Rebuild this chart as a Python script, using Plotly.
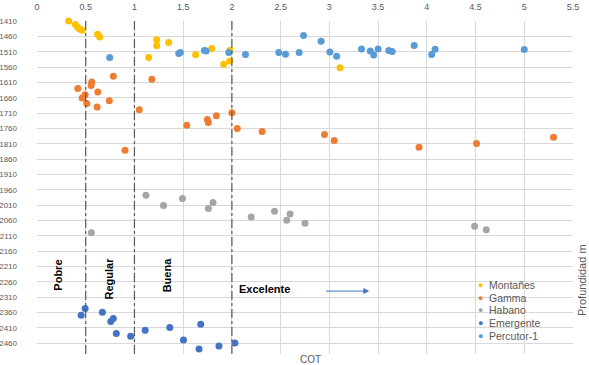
import plotly.graph_objects as go

# ---------------- data ----------------
montanes_x = [0.325, 0.393, 0.417, 0.437, 0.462, 0.622, 0.643, 1.228, 1.228, 1.351,
              1.793, 1.628, 1.146, 1.98, 1.978, 1.916, 3.11]
montanes_y = [1410, 1421, 1430, 1436, 1440, 1453, 1462, 1471, 1491, 1480,
              1500, 1520, 1529, 1506, 1540, 1551, 1562]

gamma_x = [0.783, 1.179, 0.562, 0.555, 0.419, 0.624, 0.494, 0.463, 0.511, 0.742,
           0.617, 1.049, 2.0, 1.84, 1.748, 1.758, 1.537, 2.055, 2.31, 0.903,
           2.95, 3.05, 3.92, 4.51, 5.30]
gamma_y = [1590, 1600, 1609, 1620, 1630, 1641, 1650, 1661, 1679, 1670,
           1690, 1699, 1709, 1719, 1731, 1741, 1750, 1760, 1770, 1831,
           1780, 1799, 1821, 1809, 1789]

habano_x = [1.118, 1.298, 1.493, 1.759, 1.806, 0.558, 2.198, 2.437, 2.563, 2.597,
            2.75, 4.49, 4.61]
habano_y = [1978, 2011, 1988, 2021, 2001, 2100, 2049, 2030, 2059, 2039,
            2069, 2079, 2090]

emergente_x = [0.494, 0.453, 0.671, 0.783, 0.757, 0.814, 0.961, 1.110, 1.363, 1.680,
               1.503, 1.663, 1.867, 2.031]
emergente_y = [2347, 2369, 2359, 2379, 2389, 2428, 2437, 2418, 2409, 2398,
               2449, 2479, 2469, 2459]

percutor_x = [0.746, 1.454, 1.471, 1.718, 1.735, 1.968, 2.139, 2.481, 2.55, 2.69,
              2.735, 2.915, 3.005, 3.075, 3.33, 3.42, 3.455, 3.50, 3.61, 3.645,
              3.87, 4.05, 4.085, 5.0]
percutor_y = [1529, 1516, 1513, 1506, 1508, 1513, 1519, 1513, 1518, 1513,
              1457, 1476, 1511, 1525, 1501, 1508, 1521, 1501, 1506, 1509,
              1490, 1519, 1502, 1503]

series_names = ["Montañes", "Gamma", "Habano", "Emergente", "Percutor-1"]
series_colors = ["#FFC000", "#ED7D31", "#A5A5A5", "#4472C4", "#5B9BD5"]

boundaries_x = [0.5, 1, 2]
class_labels = ["Pobre", "Regular", "Buena"]
class_x = [0.218, 0.729, 1.332]
class_y = [2239, 2249, 2236]

x_ticks = [0, 0.5, 1, 1.5, 2, 2.5, 3, 3.5, 4, 4.5, 5, 5.5]
y_ticks = list(range(1410, 2461, 50))

# ---------------- figure ----------------
FONT = "Liberation Sans"
W, H = 589, 365
ML, MR, MT, MB = 37, 16, 21, 11
PW, PH = W - ML - MR, H - MT - MB

def px_x(p):
    return (p - ML) / PW

def px_y(p):
    return 1 - (p - MT) / PH

fig = go.Figure()
all_series = [(montanes_x, montanes_y), (gamma_x, gamma_y), (habano_x, habano_y),
              (emergente_x, emergente_y), (percutor_x, percutor_y)]
for (xs, ys), name, col in zip(all_series, series_names, series_colors):
    fig.add_trace(go.Scatter(x=xs, y=ys, mode="markers", name=name, showlegend=False,
                             cliponaxis=False,
                             marker=dict(color=col, size=7, line=dict(width=0))))

for bx in boundaries_x:
    fig.add_shape(type="line", xref="x", yref="paper", x0=bx, x1=bx, y0=0, y1=1,
                  line=dict(color="#595959", width=1.2, dash="dashdot"))

for lab, lx, ly in zip(class_labels, class_x, class_y):
    fig.add_annotation(x=lx, y=ly, text="<b>%s</b>" % lab, textangle=-90,
                       xanchor="center", yanchor="middle",
                       showarrow=False, font=dict(family=FONT, size=11, color="#000000"))

fig.add_annotation(x=2.05, y=2282, text="<b>Excelente</b>", xanchor="left",
                   showarrow=False, font=dict(family=FONT, size=11, color="#000000"))
fig.add_annotation(x=3.41, y=2290, ax=2.95, ay=2290, axref="x", ayref="y",
                   text="", showarrow=True, arrowhead=2, arrowsize=1.2,
                   arrowwidth=1, arrowcolor="#4472C4")

fig.add_annotation(xref="paper", yref="paper", x=px_x(310), y=px_y(359),
                   xanchor="center", yanchor="middle",
                   text="COT", showarrow=False,
                   font=dict(family=FONT, size=10, color="#595959"))
fig.add_annotation(xref="paper", yref="paper", x=px_x(582), y=px_y(280),
                   xanchor="center", yanchor="middle",
                   text="Profundidad m", textangle=-90, showarrow=False,
                   font=dict(family=FONT, size=11, color="#595959"))

# custom compact legend (Excel style)
for i, (name, col) in enumerate(zip(series_names, series_colors)):
    yy = px_y(285 + i * 12.7)
    fig.add_annotation(xref="paper", yref="paper", x=px_x(480), y=yy,
                       text="●", showarrow=False, xanchor="center", yanchor="middle",
                       font=dict(family=FONT, size=9, color=col))
    fig.add_annotation(xref="paper", yref="paper", x=px_x(487), y=yy,
                       text=name, showarrow=False, xanchor="left", yanchor="middle",
                       font=dict(family=FONT, size=10.5, color="#595959"))

fig.update_xaxes(range=[0, 5.5], tickvals=x_ticks, side="top", showgrid=True,
                 gridcolor="#D9D9D9", gridwidth=1, zeroline=False, showline=False,
                 ticklabelstandoff=8, automargin=False,
                 tickfont=dict(family=FONT, size=9, color="#595959"))
fig.update_yaxes(range=[2495, 1410], tickvals=y_ticks, showgrid=True,
                 gridcolor="#D9D9D9", gridwidth=1, zeroline=False, showline=False,
                 ticklabelstandoff=19, automargin=False,
                 tickfont=dict(family=FONT, size=8, color="#595959"))

fig.update_layout(width=W, height=H, margin=dict(l=ML, r=MR, t=MT, b=MB),
                  plot_bgcolor="white", paper_bgcolor="white",
                  font=dict(family=FONT), showlegend=False)

fig.write_html("out.html",
               config={"displayModeBar": False},
               post_script="document.body.style.margin='0';"
                           "document.body.style.overflow='hidden';")
